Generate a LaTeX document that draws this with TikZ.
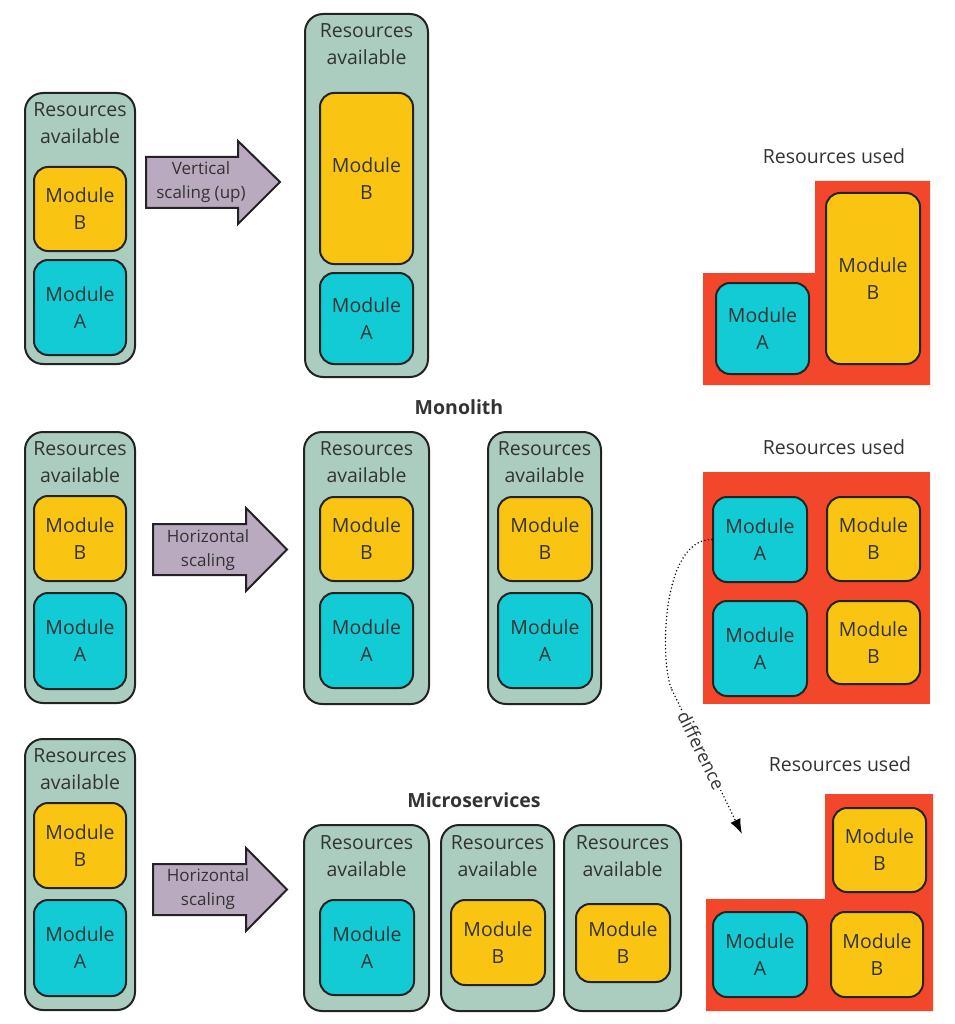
\documentclass[tikz,border=0pt]{standalone}
\usepackage{fontspec}
\setmainfont{Open Sans}
\usetikzlibrary{arrows.meta}
\definecolor{contc}{HTML}{AACDBF}
\definecolor{yelc}{HTML}{F9C512}
\definecolor{cyac}{HTML}{12CBD4}
\definecolor{redc}{HTML}{F2472A}
\definecolor{arrc}{HTML}{B9AAC0}
\definecolor{edgec}{HTML}{232323}
\definecolor{txtc}{HTML}{333333}
\tikzset{
 base/.style={draw=edgec, line width=2pt, inner sep=0pt, text=txtc, align=center, font=\fontsize{19.5}{27}\selectfont},
 cont/.style={base, fill=contc, rounded corners=18pt},
 moda/.style={base, fill=cyac, rounded corners=14pt},
 modb/.style={base, fill=yelc, rounded corners=14pt},
 lbl/.style={text=txtc, align=center, inner sep=0pt, font=\fontsize{19.5}{27}\selectfont},
 arrlbl/.style={text=txtc, align=center, inner sep=0pt, font=\fontsize{17}{23.5}\selectfont},
 ttl/.style={text=txtc, inner sep=0pt, font=\bfseries\fontsize{19.5}{24}\selectfont},
 bigarrow/.style={draw=edgec, line width=2pt, fill=arrc, line join=miter},
 used/.style={fill=redc},
 diffline/.style={draw=black, line width=1.6pt, dash pattern=on 0pt off 3.6pt, line cap=round},
}
\newcommand\bx[7]{%
 \pgfmathsetmacro\bxw{#5-#3}\pgfmathsetmacro\bxh{#6-#4}%
 \pgfmathsetmacro\bxx{(#3+#5)/2}\pgfmathsetmacro\bxy{(#4+#6)/2}%
 \node[#2, minimum width=\bxw pt, minimum height=\bxh pt] (#1) at (\bxx,\bxy) {#7};}
\newcommand\ra{Resources\\available}
\begin{document}
\begin{tikzpicture}[x=1pt,y=-1pt]
\useasboundingbox (0,0) rectangle (954,1024);
% ---------- Row 1 ----------
\bx{c11}{cont}{25}{93}{135}{364}{}
\node[lbl] (c11t) at (80,123) {\ra};
\bx{b11}{modb}{34}{167}{126}{251}{Module\\B}
\bx{a11}{moda}{34}{260}{126}{355}{Module\\A}
\draw[bigarrow] (146,157) -- (238,157) -- (238,141) -- (280,182) -- (238,224) -- (238,208) -- (146,208) -- cycle;
\node[arrlbl] (ar1) at (201,182) {Vertical\\scaling (up)};
\bx{c12}{cont}{305}{14}{428}{377}{}
\node[lbl] (c12t) at (366.5,44.5) {\ra};
\bx{b12}{modb}{320}{93}{413}{264}{Module\\B}
\bx{a12}{moda}{320}{273}{413}{364}{Module\\A}
\node[lbl] (u1) at (834,156) {Resources used};
\fill[used] (703,273) -- (815,273) -- (815,181) -- (930,181) -- (930,385) -- (703,385) -- cycle;
\bx{ua0}{moda}{716}{283}{809}{374}{Module\\A}
\bx{ub0}{modb}{826}{193}{920}{364}{Module\\B}
\node[ttl] (mono) at (459,407) {Monolith};
% ---------- Row 2 ----------
\bx{c21}{cont}{25}{432}{135}{703}{}
\node[lbl] (c21t) at (80,462) {\ra};
\bx{b21}{modb}{34}{496}{126}{581}{Module\\B}
\bx{a21}{moda}{34}{593}{126}{689}{Module\\A}
\draw[bigarrow] (153,524) -- (246,524) -- (246,508) -- (287,549.5) -- (246,591) -- (246,575) -- (153,575) -- cycle;
\node[arrlbl] (ar2) at (208,550) {Horizontal\\scaling};
\bx{c22}{cont}{304}{432}{429}{704}{}
\node[lbl] (c22t) at (366.5,462) {\ra};
\bx{b22}{modb}{320}{497}{413}{581}{Module\\B}
\bx{a22}{moda}{320}{593}{413}{688}{Module\\A}
\bx{c23}{cont}{488}{432}{601}{704}{}
\node[lbl] (c23t) at (544.5,462) {\ra};
\bx{b23}{modb}{498}{497}{592}{581}{Module\\B}
\bx{a23}{moda}{498}{593}{592}{688}{Module\\A}
\node[lbl] (u2) at (834,447) {Resources used};
\fill[used] (703,472) rectangle (930,704);
\bx{ua1}{moda}{713}{497}{807}{582}{Module\\A}
\bx{ub1}{modb}{827}{497}{920}{581}{Module\\B}
\bx{ua2}{moda}{713}{601}{807}{696}{Module\\A}
\bx{ub2}{modb}{827}{601}{920}{684}{Module\\B}
% ---------- Row 3 ----------
\bx{c31}{cont}{25}{739}{135}{1010}{}
\node[lbl] (c31t) at (80,769) {\ra};
\bx{b31}{modb}{34}{803}{126}{888}{Module\\B}
\bx{a31}{moda}{34}{900}{126}{996}{Module\\A}
\node[ttl] (micro) at (474,800) {Microservices};
\draw[bigarrow] (153,864) -- (246,864) -- (246,848) -- (287,889.5) -- (246,931) -- (246,915) -- (153,915) -- cycle;
\node[arrlbl] (ar3) at (208,889) {Horizontal\\scaling};
\bx{c32}{cont}{304}{825}{429}{1011}{}
\node[lbl] (c32t) at (366.5,856) {\ra};
\bx{a32}{moda}{320}{900}{414}{995}{Module\\A}
\bx{c33}{cont}{441}{825}{554}{1011}{}
\node[lbl] (c33t) at (497.5,856) {\ra};
\bx{b33}{modb}{451}{900}{545}{985}{Module\\B}
\bx{c34}{cont}{564}{825}{681}{1011}{}
\node[lbl] (c34t) at (622.5,856) {\ra};
\bx{b34}{modb}{576}{904}{670}{982}{Module\\B}
\node[lbl] (u3) at (840,764) {Resources used};
\fill[used] (825,794) -- (933,794) -- (933,1011) -- (706,1011) -- (706,899) -- (825,899) -- cycle;
\bx{ub3}{modb}{833}{808}{926}{892}{Module\\B}
\bx{ua3}{moda}{713}{912}{807}{997}{Module\\A}
\bx{ub4}{modb}{831}{912}{923}{997}{Module\\B}
% ---------- difference connector ----------
\coordinate (dmid) at (672,690);
\coordinate (dend) at (742,834);
\draw[diffline] (ua1.west) .. controls (660,539) and (660,666) .. (dmid);
\draw[diffline, -{Latex[length=15pt,width=11pt]}] (dmid) -- node[pos=0.42, sloped, fill=white, inner sep=1.5pt, text=txtc, font=\fontsize{18}{22}\selectfont] (dlab) {difference} (dend);
\end{tikzpicture}
\end{document}
